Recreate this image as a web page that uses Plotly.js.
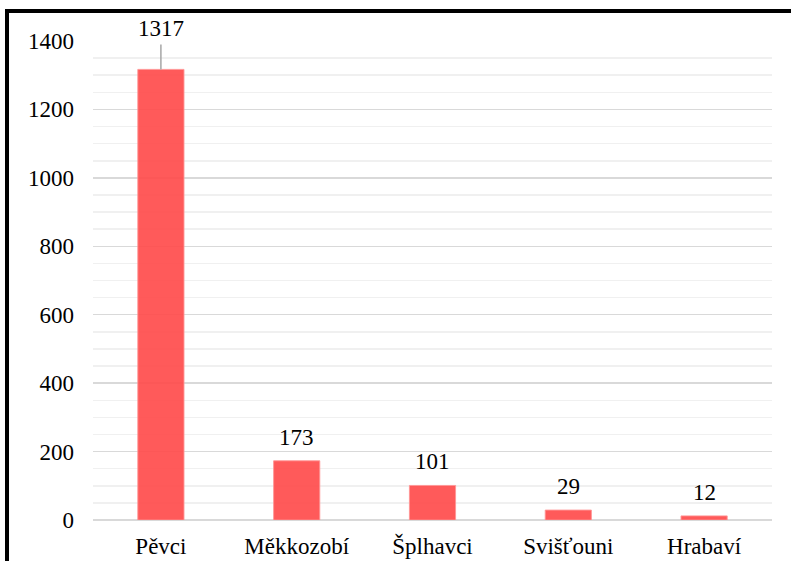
<!DOCTYPE html>
<html>
<head>
<meta charset="utf-8">
<script src="https://cdn.plot.ly/plotly-3.0.1.min.js"></script>
<style>
html,body{margin:0;padding:0;background:#fff;}
#wrap{position:relative;width:791px;height:561px;overflow:hidden;}
#chart{width:791px;height:561px;}
#frame{position:absolute;left:5px;top:9px;width:800px;height:600px;border-left:4px solid #000;border-top:4px solid #000;pointer-events:none;}
</style>
</head>
<body>
<div id="wrap"><div id="chart"></div><div id="frame"></div></div>
<script>
const categories = ["Pěvci", "Měkkozobí", "Šplhavci", "Svišťouni", "Hrabaví"];
const counts = [1317, 173, 101, 29, 12];
const yTicks = [0, 200, 400, 600, 800, 1000, 1200, 1400];

const font = {family: "Liberation Serif", size: 23, color: "#000"};

const trace = {
  type: "bar",
  x: categories,
  y: counts,
  marker: {color: "rgba(255,72,72,0.9)", line: {color: "rgba(255,150,150,0.9)", width: 1}},
  hoverinfo: "x+y"
};

const annotations = categories.map((c, i) => {
  if (i === 0) {
    return {x: c, y: counts[i], text: String(counts[i]), showarrow: true, arrowhead: 0,
            arrowcolor: "#a6a6a6", arrowwidth: 1.5, ax: 0, ay: -41, borderpad: 3,
            font: font, xref: "x", yref: "y"};
  }
  return {x: c, y: counts[i], text: String(counts[i]), showarrow: false, yanchor: "bottom",
          yshift: 9, font: font, xref: "x", yref: "y"};
});

const layout = {
  width: 791, height: 561,
  margin: {l: 93, r: 19, t: 41, b: 41},
  paper_bgcolor: "#fff", plot_bgcolor: "#fff",
  font: font,
  bargap: 0.66,
  showlegend: false,
  xaxis: {
    showgrid: false, showline: false, ticks: "", ticklabelstandoff: 10,
    tickfont: font, fixedrange: true
  },
  yaxis: {
    range: [0, 1400], tickvals: yTicks, ticktext: yTicks.map(String),
    showgrid: true, gridcolor: "#d9d9d9", gridwidth: 1.5,
    zeroline: true, zerolinecolor: "#d9d9d9", zerolinewidth: 1.5,
    minor: {dtick: 50, showgrid: true, gridcolor: "#f0f0f0", gridwidth: 1.5},
    showline: false, ticks: "", ticklabelstandoff: 18, tickfont: font, fixedrange: true
  },
  annotations: annotations
};

Plotly.newPlot("chart", [trace], layout, {displayModeBar: false, staticPlot: true});
</script>
</body>
</html>
